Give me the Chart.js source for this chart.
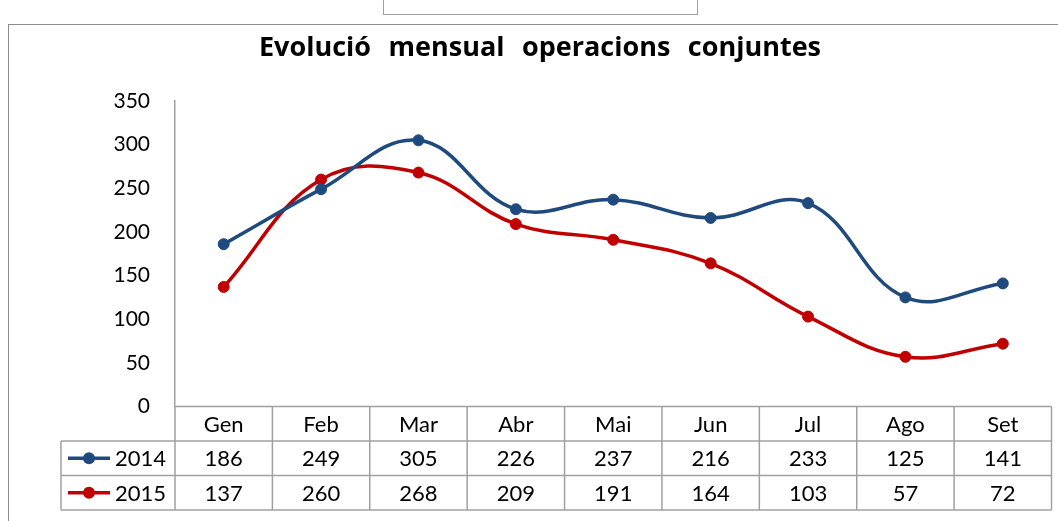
<!DOCTYPE html>
<html>
<head>
<meta charset="utf-8">
<script src="https://cdn.jsdelivr.net/npm/chart.js@4.4.1/dist/chart.umd.min.js"></script>
<style>
  html, body { margin: 0; padding: 0; background: #fff; }
  #wrap { position: relative; width: 1058px; height: 521px; overflow: hidden; }
  #frame { position: absolute; left: 8px; top: 24px; width: 1100px; height: 600px; border: 1px solid #8c8c8c; }
  #tab { position: absolute; left: 383px; top: -2px; width: 313px; height: 15px; border: 1px solid #a0a0a0; background: #fff; }
  #chart { position: absolute; left: 0; top: 0; }
</style>
</head>
<body>
<div id="wrap">
  <div id="frame"></div>
  <div id="tab"></div>
  <canvas id="chart" width="1058" height="521"></canvas>
</div>
<script>
// ============================
// DATA
// ============================

const TITLE = "Evolució mensual operacions conjuntes";
const months = ["Gen", "Feb", "Mar", "Abr", "Mai", "Jun", "Jul", "Ago", "Set"];
const ops2014 = [186, 249, 305, 226, 237, 216, 233, 125, 141];
const ops2015 = [137, 260, 268, 209, 191, 164, 103, 57, 72];
const seriesNames = ["2014", "2015"];
const seriesColors = ["#1f4a7e", "#c00000"];

const FONT = "Lato, 'Open Sans', sans-serif";
const TITLE_FONT = "'Open Sans', Lato, sans-serif";
const GRID = "#a0a0a0";

// ============================
// PLUGINS
// ============================

const titlePlugin = {
  id: "titlePlugin",
  afterDraw(chart) {
    const ctx = chart.ctx;
    ctx.save();
    ctx.font = "bold 27px " + TITLE_FONT;
    // the original title is set with wide word gaps: spread to ~562px
    const w = ctx.measureText(TITLE).width;
    const gaps = TITLE.split(" ").length - 1;
    if (w < 562 && "wordSpacing" in ctx) {
      ctx.wordSpacing = ((562 - w) / gaps) + "px";
    }
    ctx.fillStyle = "#000";
    ctx.textAlign = "center";
    ctx.textBaseline = "alphabetic";
    ctx.fillText(TITLE, 540, 56);
    ctx.restore();
  }
};

// data table under the plot, aligned on the category scale
const dataTablePlugin = {
  id: "dataTablePlugin",
  afterDraw(chart) {
    const ctx = chart.ctx;
    const x = chart.scales.x;
    const area = chart.chartArea;
    const top = area.bottom;
    const rowH = 34.5;
    const legendLeft = 61;
    const colW = (x.right - x.left) / months.length;

    ctx.save();
    ctx.strokeStyle = GRID;
    ctx.lineWidth = 1.5;

    const line = (x1, y1, x2, y2) => {
      ctx.beginPath();
      ctx.moveTo(x1, y1);
      ctx.lineTo(x2, y2);
      ctx.stroke();
    };

    // horizontal lines
    line(x.left, top, x.right, top);
    for (let r = 1; r <= 3; r++) {
      line(legendLeft, top + r * rowH, x.right, top + r * rowH);
    }
    // vertical lines
    line(legendLeft, top + rowH, legendLeft, top + 3 * rowH);
    for (let i = 0; i <= months.length; i++) {
      const xx = x.left + i * colW;
      line(xx, top, xx, top + 3 * rowH);
    }

    ctx.font = "22px " + FONT;
    ctx.fillStyle = "#000";
    ctx.textAlign = "center";
    ctx.textBaseline = "middle";

    months.forEach((m, i) => {
      ctx.fillText(m, x.getPixelForValue(i), top + rowH * 0.5 + 1);
    });

    [ops2014, ops2015].forEach((vals, r) => {
      const cy = top + rowH * (r + 1.5) + 1;
      vals.forEach((v, i) => {
        ctx.fillText(String(v), x.getPixelForValue(i), cy);
      });
    });

    // legend keys
    seriesNames.forEach((name, r) => {
      const cy = top + rowH * (r + 1.5);
      ctx.strokeStyle = seriesColors[r];
      ctx.lineWidth = 3.5;
      line(68, cy, 110, cy);
      ctx.beginPath();
      ctx.arc(89, cy, 6, 0, Math.PI * 2);
      ctx.fillStyle = seriesColors[r];
      ctx.fill();
      ctx.fillStyle = "#000";
      ctx.textAlign = "left";
      ctx.fillText(name, 115, cy + 1);
    });

    ctx.restore();
  }
};

// ============================
// CHART
// ============================

function makeDataset(label, data, color) {
  return {
    label,
    data,
    borderColor: color,
    backgroundColor: color,
    borderWidth: 3.5,
    pointRadius: 5.5,
    pointBorderWidth: 1,
    pointBackgroundColor: color,
    pointBorderColor: color,
    tension: 0.4,
    fill: false
  };
}

new Chart(document.getElementById("chart"), {
  type: "line",
  data: {
    labels: months,
    datasets: [
      makeDataset(seriesNames[0], ops2014, seriesColors[0]),
      makeDataset(seriesNames[1], ops2015, seriesColors[1])
    ]
  },
  options: {
    responsive: false,
    animation: false,
    layout: {
      padding: { left: 0, top: 101, right: 5, bottom: 11 }
    },
    plugins: {
      legend: { display: false },
      title: { display: false },
      tooltip: { enabled: false }
    },
    scales: {
      x: {
        offset: true,
        grid: { display: false, drawTicks: false },
        border: { display: false },
        ticks: { display: false },
        afterFit: (scale) => { scale.height = 103.5; }
      },
      y: {
        min: 0,
        max: 350,
        ticks: {
          stepSize: 50,
          padding: 25,
          color: "#000",
          font: { family: FONT, size: 21 }
        },
        grid: { display: false, drawTicks: false },
        border: { display: true, color: GRID, width: 1.5 },
        afterFit: (scale) => { scale.width = 175; }
      }
    }
  },
  plugins: [titlePlugin, dataTablePlugin]
});
</script>
</body>
</html>
